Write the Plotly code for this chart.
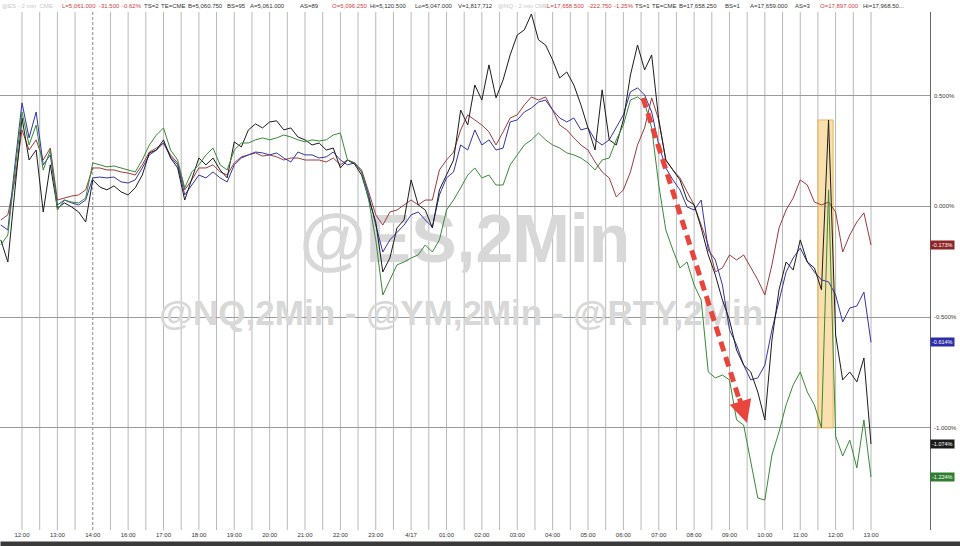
import plotly.graph_objects as go

# sample times in hours after 12:00 (one sample every 12 minutes)
hours = [round(-0.6 + 0.2 * i, 1) for i in range(124)]

tick_hours = list(range(25))
tick_labels = ["12:00", "13:00", "14:00", "16:00", "17:00", "18:00", "19:00", "20:00",
               "21:00", "22:00", "23:00", "4/17", "01:00", "02:00", "03:00", "04:00",
               "05:00", "06:00", "07:00", "08:00", "09:00", "10:00", "11:00", "12:00", "13:00"]

y_ticks = [0.5, 0.0, -0.5, -1.0]
y_tick_labels = ["0.500%", "0.000%", "-0.500%", "-1.000%"]

# % change, NQ (black)
nq = [-0.151, -0.251, 0.075, 0.400, 0.210, 0.255, -0.025, 0.188, -0.007, 0.016,
      -0.002, -0.025, -0.070, 0.120, 0.088, 0.075, 0.093, 0.066, 0.052, 0.084,
      0.142, 0.242, 0.255, 0.301, 0.219, 0.174, 0.029, 0.129, 0.219, 0.188,
      0.219, 0.165, 0.129, 0.292, 0.269, 0.346, 0.373, 0.355, 0.382, 0.387,
      0.346, 0.355, 0.314, 0.301, 0.278, 0.287, 0.255, 0.264, 0.174, 0.210,
      0.192, 0.142, 0.038, -0.070, -0.296, -0.233, -0.097, -0.061, 0.120, 0.007,
      -0.016, -0.097, 0.075, 0.142, 0.210, 0.436, 0.368, 0.549, 0.481, 0.640,
      0.491, 0.572, 0.685, 0.775, 0.798, 0.870, 0.753, 0.730, 0.662, 0.581,
      0.608, 0.549, 0.459, 0.355, 0.255, 0.527, 0.301, 0.278, 0.391, 0.594,
      0.730, 0.617, 0.685, 0.391, 0.210, 0.165, 0.120, 0.029, 0.007, -0.097,
      -0.219, -0.310, -0.423, -0.513, -0.649, -0.717, -0.748, -0.839, -0.965, -0.604,
      -0.377, -0.251, -0.287, -0.151, -0.251, -0.278, -0.377, 0.391, -0.581, -0.784,
      -0.748, -0.793, -0.685, -1.074]

# % change, ES (blue)
es = [-0.084, -0.106, 0.188, 0.468, 0.310, 0.427, 0.188, 0.233, 0.007, 0.029,
      0.016, 0.007, 0.029, 0.129, 0.133, 0.129, 0.133, 0.111, 0.106, 0.120,
      0.174, 0.233, 0.255, 0.287, 0.224, 0.188, 0.052, 0.097, 0.142, 0.129,
      0.156, 0.129, 0.111, 0.188, 0.219, 0.233, 0.246, 0.242, 0.233, 0.242,
      0.219, 0.201, 0.246, 0.233, 0.233, 0.219, 0.224, 0.246, 0.210, 0.188,
      0.197, 0.156, 0.052, -0.084, -0.206, -0.151, -0.115, -0.084, -0.038, -0.025,
      -0.061, -0.093, 0.052, 0.129, 0.156, 0.278, 0.255, 0.346, 0.278, 0.301,
      0.255, 0.264, 0.382, 0.391, 0.427, 0.445, 0.472, 0.481, 0.436, 0.400,
      0.382, 0.400, 0.346, 0.355, 0.301, 0.278, 0.301, 0.355, 0.414, 0.518,
      0.536, 0.504, 0.427, 0.278, 0.174, 0.120, 0.075, -0.002, -0.016, 0.029,
      -0.197, -0.242, -0.355, -0.558, -0.626, -0.717, -0.784, -0.775, -0.717, -0.558,
      -0.423, -0.296, -0.233, -0.188, -0.251, -0.296, -0.332, -0.341, -0.400, -0.522,
      -0.459, -0.450, -0.387, -0.614]

# % change, YM (dark red)
ym = [-0.061, -0.038, 0.120, 0.346, 0.255, 0.301, 0.210, 0.264, 0.029, 0.038,
      0.047, 0.052, 0.075, 0.174, 0.174, 0.165, 0.165, 0.156, 0.151, 0.142,
      0.188, 0.246, 0.264, 0.287, 0.233, 0.197, 0.075, 0.120, 0.174, 0.174,
      0.188, 0.156, 0.142, 0.197, 0.224, 0.233, 0.242, 0.228, 0.233, 0.224,
      0.210, 0.219, 0.219, 0.210, 0.210, 0.210, 0.201, 0.219, 0.188, 0.210,
      0.197, 0.165, 0.066, -0.038, -0.084, -0.025, -0.016, 0.007, 0.029, 0.007,
      0.029, 0.029, 0.165, 0.210, 0.246, 0.346, 0.414, 0.391, 0.368, 0.337,
      0.278, 0.337, 0.400, 0.414, 0.459, 0.495, 0.481, 0.495, 0.436, 0.368,
      0.346, 0.310, 0.278, 0.255, 0.201, 0.156, 0.129, 0.043, 0.075, 0.156,
      0.278, 0.355, 0.491, 0.391, 0.210, 0.165, 0.129, 0.066, 0.007, -0.084,
      -0.174, -0.296, -0.278, -0.219, -0.242, -0.219, -0.278, -0.332, -0.400, -0.264,
      -0.097, -0.016, 0.038, 0.120, 0.097, 0.020, 0.007, 0.020, -0.025, -0.206,
      -0.129, -0.070, -0.029, -0.174]

# % change, RTY (green)
rty = [-0.174, -0.129, 0.156, 0.427, 0.278, 0.368, 0.165, 0.255, -0.016, 0.029,
       0.020, 0.016, 0.038, 0.197, 0.188, 0.179, 0.183, 0.174, 0.165, 0.156,
       0.210, 0.278, 0.323, 0.355, 0.255, 0.210, 0.084, 0.156, 0.188, 0.233,
       0.264, 0.188, 0.165, 0.255, 0.287, 0.287, 0.301, 0.310, 0.301, 0.310,
       0.323, 0.314, 0.301, 0.292, 0.301, 0.296, 0.301, 0.323, 0.332, 0.210,
       0.197, 0.156, 0.029, -0.151, -0.400, -0.332, -0.264, -0.251, -0.233, -0.219,
       -0.174, -0.206, -0.151, -0.016, 0.029, 0.084, 0.142, 0.174, 0.129, 0.142,
       0.097, 0.097, 0.188, 0.233, 0.278, 0.301, 0.332, 0.301, 0.278, 0.264,
       0.242, 0.233, 0.219, 0.197, 0.165, 0.210, 0.219, 0.301, 0.368, 0.481,
       0.495, 0.468, 0.355, 0.097, -0.106, -0.197, -0.278, -0.251, -0.355, -0.423,
       -0.748, -0.775, -0.762, -0.784, -0.965, -0.988, -1.155, -1.318, -1.327, -1.123,
       -1.019, -0.897, -0.807, -0.748, -0.839, -0.897, -1.001, 0.075, -1.038, -1.128,
       -1.056, -1.182, -0.965, -1.223]

series = [
    ("@YM", ym, "#9c3b3b", "-0.173%", "#8e2424"),
    ("@ES", es, "#3434a8", "-0.614%", "#2c2ca6"),
    ("@NQ", nq, "#1c1c1c", "-1.074%", "#1a1a1a"),
    ("@RTY", rty, "#378a37", "-1.224%", "#2f7d2f"),
]

FONT = "Liberation Sans, Arial, sans-serif"
fig = go.Figure()

# watermarks (behind the lines)
fig.add_trace(go.Scatter(x=[12.52], y=[-0.174], mode="text", text=["<b>@ES,2Min</b>"],
                         textfont=dict(size=68, color="#d8d8d8", family=FONT),
                         hoverinfo="skip", showlegend=False))
fig.add_trace(go.Scatter(x=[12.41], y=[-0.495], mode="text",
                         text=["<b>@NQ,2Min - @YM,2Min - @RTY,2Min</b>"],
                         textfont=dict(size=35, color="#d8d8d8", family=FONT),
                         hoverinfo="skip", showlegend=False))

for name, vals, color, tag, tagcol in series:
    fig.add_trace(go.Scatter(x=hours, y=vals, mode="lines", name=name,
                             line=dict(color=color, width=1), showlegend=False))

shapes = []
# half-hour vertical grid
for k in range(49):
    u = k * 0.5
    if u == 2:
        shapes.append(dict(type="line", xref="x", yref="paper", x0=u, x1=u, y0=0, y1=1,
                           line=dict(color="#8a8a8a", width=1, dash="3px,2px"), layer="below"))
    else:
        shapes.append(dict(type="line", xref="x", yref="paper", x0=u, x1=u, y0=0, y1=1,
                           line=dict(color="#b8b8b8", width=1), layer="below"))

# highlighted spike
shapes.append(dict(type="rect", xref="x", yref="y", x0=22.50, x1=22.93, y0=-1.001, y1=0.391,
                   fillcolor="rgba(246,204,120,0.6)", line=dict(color="rgba(232,176,80,0.9)", width=1),
                   layer="between"))
# red dashed arrow shaft
shapes.append(dict(type="line", xref="x", yref="y", x0=17.555, y0=0.4905, x1=20.25, y1=-0.86,
                   line=dict(color="#e8463c", width=5, dash="10px,6px"), layer="above"))

annotations = []
# bottom dark bar
annotations.append(dict(x=0, xref="paper", y=-(541 - 530) / 518, yref="paper",
                        xanchor="left", yanchor="top", text=" ", showarrow=False,
                        width=962, height=8, bgcolor="#3a3a3a", borderpad=0,
                        font=dict(size=4, color="#3a3a3a")))
# arrow head
annotations.append(dict(x=20.495, y=-0.979, xref="x", yref="y", ax=-8, ay=-26, text="",
                        showarrow=True, arrowhead=2, arrowsize=0.9, arrowwidth=5, arrowcolor="#e8463c"))

# last-value tags
for name, vals, color, tag, tagcol in series:
    annotations.append(dict(x=1, xref="paper", y=vals[-1], yref="y", xanchor="left", xshift=0,
                            text=tag, showarrow=False, bgcolor=tagcol, borderpad=1,
                            font=dict(size=5.5, color="white", family=FONT)))

# right axis labels
for v, lab in zip(y_ticks, y_tick_labels):
    annotations.append(dict(x=1, xref="paper", y=v, yref="y", xanchor="left", xshift=2,
                            text=lab, showarrow=False,
                            font=dict(size=6, color="#3a3a3a", family=FONT)))

# header line
header = [
    (0, "@ES - 2 min  CME", "#c8c8c8"), (60, "L=5,061.000", "#d04040"), (97, "-31.500", "#d04040"),
    (120, "-0.62%", "#d04040"), (142, "TS=2", "#333333"), (159, "TE=CME", "#333333"),
    (186, "B=5,060.750", "#333333"), (225, "BS=95", "#333333"), (248, "A=5,061.000", "#333333"),
    (298, "AS=89", "#333333"), (330, "O=5,096.250", "#d04040"), (368, "Hi=5,120.500", "#333333"),
    (413, "Lo=5,047.000", "#333333"), (456, "V=1,817,712", "#333333"),
    (496, "@NQ - 2 min CME", "#c8c8c8"), (545, "L=17,658.500", "#d04040"), (586, "-222.750", "#d04040"),
    (612, "-1.25%", "#d04040"), (633, "TS=1", "#333333"), (650, "TE=CME", "#333333"),
    (677, "B=17,658.250", "#333333"), (723, "BS=1", "#333333"), (748, "A=17,659.000", "#333333"),
    (793, "AS=3", "#333333"), (818, "O=17,897.000", "#d04040"), (861, "Hi=17,968.50...", "#333333"),
]
for px, txt, col in header:
    annotations.append(dict(x=px / 930, xref="paper", y=1 + 6 / 518, yref="paper",
                            xanchor="left", yanchor="middle", text=txt, showarrow=False,
                            font=dict(size=6, color=col, family=FONT)))

fig.update_layout(
    width=960, height=546,
    margin=dict(l=0, r=30, t=12, b=16),
    plot_bgcolor="white", paper_bgcolor="white",
    showlegend=False,
    shapes=shapes, annotations=annotations,
    xaxis=dict(range=[-0.622, 25.668], showgrid=False, zeroline=False, showline=False,
               tickvals=tick_hours, ticktext=tick_labels, ticks="",
               tickfont=dict(size=6, color="#333333", family=FONT)),
    yaxis=dict(range=[-1.4625, 0.879], side="right", showticklabels=False,
               tickvals=y_ticks,
               showgrid=True, gridcolor="#9a9a9a", gridwidth=1, zeroline=False,
               showline=True, linecolor="#666666", linewidth=1, ticks=""),
)

fig.write_html("out.html", config={"displayModeBar": False},
               post_script="document.body.style.margin='0';document.body.style.overflow='hidden';")
